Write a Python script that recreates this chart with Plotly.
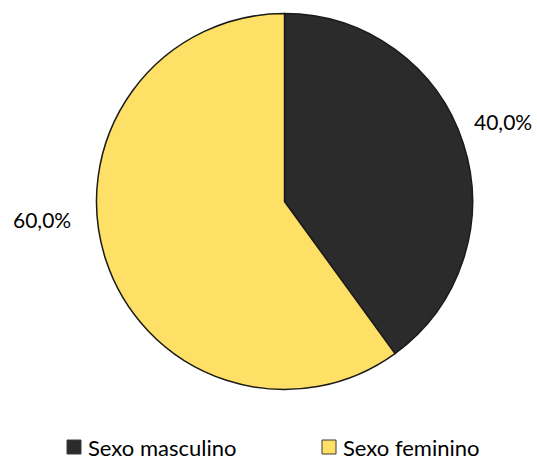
import plotly.graph_objects as go

labels = ["Sexo masculino", "Sexo feminino"]
values = [40.0, 60.0]
colors = ["#2b2b2b", "#ffe066"]

W, H = 537, 459
total = sum(values)
pct_text = [f"{v / total * 100:.1f}%".replace(".", ",") for v in values]

fig = go.Figure(go.Pie(
    labels=labels,
    values=values,
    sort=False,
    direction="clockwise",
    rotation=0,
    marker=dict(colors=colors, line=dict(color="#1a1a1a", width=1.5)),
    textinfo="none",
    hoverinfo="label+percent",
    showlegend=False,
    domain=dict(x=[96.5 / W, 472.5 / W], y=[(H - 389.5) / H, (H - 13.5) / H]),
))

# percentage labels
label_pos = [(503 / W, 1 - 121.5 / H), (42 / W, 1 - 219.5 / H)]
for (x, y), t in zip(label_pos, pct_text):
    fig.add_annotation(x=x, y=y, xref="paper", yref="paper", text=t,
                       showarrow=False, font=dict(size=21, color="#000000"),
                       xanchor="center", yanchor="middle")

# legend (drawn with shapes + annotations)
legend_x = [67, 322]
legend_y = 447
sq = 14
for lx, lab, col in zip(legend_x, labels, colors):
    fig.add_shape(type="rect", xref="paper", yref="paper",
                  x0=lx / W, x1=(lx + sq) / W,
                  y0=1 - (legend_y + sq / 2) / H, y1=1 - (legend_y - sq / 2) / H,
                  fillcolor=col, line=dict(color="#3a3a3a", width=1))
    fig.add_annotation(x=(lx + sq + 6) / W, y=1 - legend_y / H, xref="paper", yref="paper",
                       text=lab, showarrow=False, xanchor="left", yanchor="middle",
                       height=22, valign="middle", borderpad=0,
                       font=dict(size=22, color="#000000"))

fig.update_layout(
    width=W, height=H,
    margin=dict(l=0, r=0, t=0, b=0),
    paper_bgcolor="white",
    plot_bgcolor="white",
    font=dict(family="Lato, Open Sans, sans-serif", size=20, color="#000000"),
    showlegend=False,
)

fig.write_html("out.html", config={"displayModeBar": False},
               post_script="document.body.style.margin='0';")
